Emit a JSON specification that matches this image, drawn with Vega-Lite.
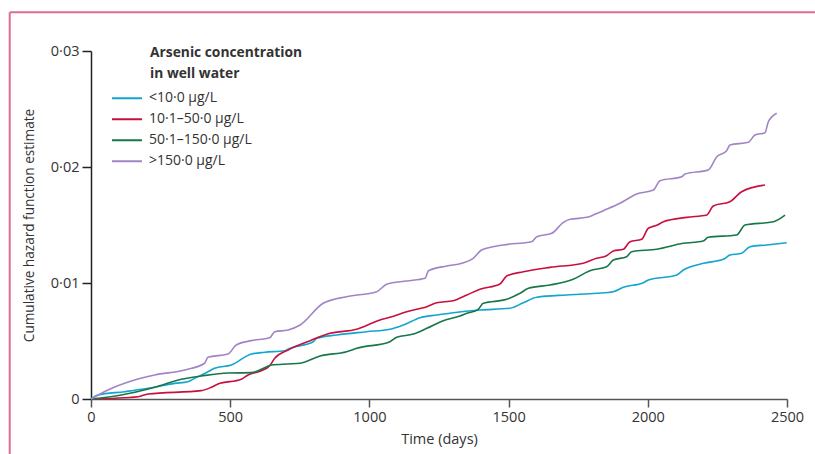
{
  "$schema": "https://vega.github.io/schema/vega-lite/v6.json",
  "width": 696,
  "height": 348,
  "autosize": {"type": "none"},
  "padding": {"left": 91, "top": 51, "right": 28, "bottom": 55},
  "background": "white",
  "config": {
    "view": {"stroke": null},
    "font": "Open Sans",
    "axis": {"labelFont": "Open Sans", "titleFont": "Open Sans", "grid": false}
  },
  "datasets": {
    "curves": [
      {"group": "<10·0 μg/L", "time": 0, "hazard": 0},
      {"group": "<10·0 μg/L", "time": 25, "hazard": 0.00034},
      {"group": "<10·0 μg/L", "time": 121, "hazard": 0.00063},
      {"group": "<10·0 μg/L", "time": 205, "hazard": 0.00092},
      {"group": "<10·0 μg/L", "time": 301, "hazard": 0.00135},
      {"group": "<10·0 μg/L", "time": 348, "hazard": 0.00149},
      {"group": "<10·0 μg/L", "time": 372, "hazard": 0.00178},
      {"group": "<10·0 μg/L", "time": 420, "hazard": 0.00235},
      {"group": "<10·0 μg/L", "time": 444, "hazard": 0.00265},
      {"group": "<10·0 μg/L", "time": 504, "hazard": 0.00293},
      {"group": "<10·0 μg/L", "time": 576, "hazard": 0.00388},
      {"group": "<10·0 μg/L", "time": 624, "hazard": 0.00403},
      {"group": "<10·0 μg/L", "time": 696, "hazard": 0.00416},
      {"group": "<10·0 μg/L", "time": 715, "hazard": 0.00437},
      {"group": "<10·0 μg/L", "time": 798, "hazard": 0.00494},
      {"group": "<10·0 μg/L", "time": 811, "hazard": 0.00523},
      {"group": "<10·0 μg/L", "time": 883, "hazard": 0.00552},
      {"group": "<10·0 μg/L", "time": 990, "hazard": 0.0058},
      {"group": "<10·0 μg/L", "time": 1074, "hazard": 0.00601},
      {"group": "<10·0 μg/L", "time": 1122, "hazard": 0.00638},
      {"group": "<10·0 μg/L", "time": 1182, "hazard": 0.00701},
      {"group": "<10·0 μg/L", "time": 1242, "hazard": 0.00724},
      {"group": "<10·0 μg/L", "time": 1301, "hazard": 0.00744},
      {"group": "<10·0 μg/L", "time": 1397, "hazard": 0.00767},
      {"group": "<10·0 μg/L", "time": 1505, "hazard": 0.00782},
      {"group": "<10·0 μg/L", "time": 1553, "hazard": 0.0083},
      {"group": "<10·0 μg/L", "time": 1601, "hazard": 0.00877},
      {"group": "<10·0 μg/L", "time": 1709, "hazard": 0.00897},
      {"group": "<10·0 μg/L", "time": 1816, "hazard": 0.00911},
      {"group": "<10·0 μg/L", "time": 1876, "hazard": 0.00925},
      {"group": "<10·0 μg/L", "time": 1912, "hazard": 0.00963},
      {"group": "<10·0 μg/L", "time": 1984, "hazard": 0.01003},
      {"group": "<10·0 μg/L", "time": 2002, "hazard": 0.01026},
      {"group": "<10·0 μg/L", "time": 2104, "hazard": 0.01069},
      {"group": "<10·0 μg/L", "time": 2128, "hazard": 0.01112},
      {"group": "<10·0 μg/L", "time": 2200, "hazard": 0.0117},
      {"group": "<10·0 μg/L", "time": 2271, "hazard": 0.01204},
      {"group": "<10·0 μg/L", "time": 2295, "hazard": 0.01241},
      {"group": "<10·0 μg/L", "time": 2337, "hazard": 0.01256},
      {"group": "<10·0 μg/L", "time": 2367, "hazard": 0.01313},
      {"group": "<10·0 μg/L", "time": 2427, "hazard": 0.01328},
      {"group": "<10·0 μg/L", "time": 2499, "hazard": 0.01347},

      {"group": "10·1–50·0 μg/L", "time": 0, "hazard": 0},
      {"group": "10·1–50·0 μg/L", "time": 169, "hazard": 0.0002},
      {"group": "10·1–50·0 μg/L", "time": 205, "hazard": 0.00043},
      {"group": "10·1–50·0 μg/L", "time": 396, "hazard": 0.00072},
      {"group": "10·1–50·0 μg/L", "time": 432, "hazard": 0.00101},
      {"group": "10·1–50·0 μg/L", "time": 456, "hazard": 0.00129},
      {"group": "10·1–50·0 μg/L", "time": 540, "hazard": 0.0017},
      {"group": "10·1–50·0 μg/L", "time": 564, "hazard": 0.00207},
      {"group": "10·1–50·0 μg/L", "time": 612, "hazard": 0.00244},
      {"group": "10·1–50·0 μg/L", "time": 642, "hazard": 0.00287},
      {"group": "10·1–50·0 μg/L", "time": 660, "hazard": 0.00351},
      {"group": "10·1–50·0 μg/L", "time": 708, "hazard": 0.00422},
      {"group": "10·1–50·0 μg/L", "time": 787, "hazard": 0.00503},
      {"group": "10·1–50·0 μg/L", "time": 858, "hazard": 0.00566},
      {"group": "10·1–50·0 μg/L", "time": 954, "hazard": 0.00601},
      {"group": "10·1–50·0 μg/L", "time": 1038, "hazard": 0.00681},
      {"group": "10·1–50·0 μg/L", "time": 1074, "hazard": 0.00704},
      {"group": "10·1–50·0 μg/L", "time": 1134, "hazard": 0.00753},
      {"group": "10·1–50·0 μg/L", "time": 1206, "hazard": 0.00796},
      {"group": "10·1–50·0 μg/L", "time": 1242, "hazard": 0.0083},
      {"group": "10·1–50·0 μg/L", "time": 1301, "hazard": 0.00847},
      {"group": "10·1–50·0 μg/L", "time": 1350, "hazard": 0.00897},
      {"group": "10·1–50·0 μg/L", "time": 1397, "hazard": 0.00946},
      {"group": "10·1–50·0 μg/L", "time": 1469, "hazard": 0.00991},
      {"group": "10·1–50·0 μg/L", "time": 1493, "hazard": 0.0106},
      {"group": "10·1–50·0 μg/L", "time": 1553, "hazard": 0.01097},
      {"group": "10·1–50·0 μg/L", "time": 1649, "hazard": 0.01135},
      {"group": "10·1–50·0 μg/L", "time": 1768, "hazard": 0.0117},
      {"group": "10·1–50·0 μg/L", "time": 1816, "hazard": 0.01213},
      {"group": "10·1–50·0 μg/L", "time": 1852, "hazard": 0.01235},
      {"group": "10·1–50·0 μg/L", "time": 1876, "hazard": 0.01276},
      {"group": "10·1–50·0 μg/L", "time": 1912, "hazard": 0.0129},
      {"group": "10·1–50·0 μg/L", "time": 1936, "hazard": 0.01356},
      {"group": "10·1–50·0 μg/L", "time": 1978, "hazard": 0.01377},
      {"group": "10·1–50·0 μg/L", "time": 2002, "hazard": 0.01472},
      {"group": "10·1–50·0 μg/L", "time": 2032, "hazard": 0.01497},
      {"group": "10·1–50·0 μg/L", "time": 2056, "hazard": 0.01528},
      {"group": "10·1–50·0 μg/L", "time": 2140, "hazard": 0.01566},
      {"group": "10·1–50·0 μg/L", "time": 2212, "hazard": 0.01586},
      {"group": "10·1–50·0 μg/L", "time": 2235, "hazard": 0.01664},
      {"group": "10·1–50·0 μg/L", "time": 2295, "hazard": 0.01701},
      {"group": "10·1–50·0 μg/L", "time": 2337, "hazard": 0.01787},
      {"group": "10·1–50·0 μg/L", "time": 2421, "hazard": 0.01845},

      {"group": "50·1–150·0 μg/L", "time": 0, "hazard": 0},
      {"group": "50·1–150·0 μg/L", "time": 109, "hazard": 0.00034},
      {"group": "50·1–150·0 μg/L", "time": 229, "hazard": 0.00101},
      {"group": "50·1–150·0 μg/L", "time": 324, "hazard": 0.0017},
      {"group": "50·1–150·0 μg/L", "time": 396, "hazard": 0.00198},
      {"group": "50·1–150·0 μg/L", "time": 492, "hazard": 0.00224},
      {"group": "50·1–150·0 μg/L", "time": 576, "hazard": 0.00227},
      {"group": "50·1–150·0 μg/L", "time": 612, "hazard": 0.00256},
      {"group": "50·1–150·0 μg/L", "time": 648, "hazard": 0.00293},
      {"group": "50·1–150·0 μg/L", "time": 708, "hazard": 0.00302},
      {"group": "50·1–150·0 μg/L", "time": 751, "hazard": 0.00308},
      {"group": "50·1–150·0 μg/L", "time": 823, "hazard": 0.00371},
      {"group": "50·1–150·0 μg/L", "time": 918, "hazard": 0.00408},
      {"group": "50·1–150·0 μg/L", "time": 954, "hazard": 0.00437},
      {"group": "50·1–150·0 μg/L", "time": 1074, "hazard": 0.00494},
      {"group": "50·1–150·0 μg/L", "time": 1098, "hazard": 0.00532},
      {"group": "50·1–150·0 μg/L", "time": 1158, "hazard": 0.0056},
      {"group": "50·1–150·0 μg/L", "time": 1206, "hazard": 0.00609},
      {"group": "50·1–150·0 μg/L", "time": 1265, "hazard": 0.00675},
      {"group": "50·1–150·0 μg/L", "time": 1325, "hazard": 0.00716},
      {"group": "50·1–150·0 μg/L", "time": 1350, "hazard": 0.00739},
      {"group": "50·1–150·0 μg/L", "time": 1391, "hazard": 0.00773},
      {"group": "50·1–150·0 μg/L", "time": 1409, "hazard": 0.00825},
      {"group": "50·1–150·0 μg/L", "time": 1493, "hazard": 0.00859},
      {"group": "50·1–150·0 μg/L", "time": 1541, "hazard": 0.00911},
      {"group": "50·1–150·0 μg/L", "time": 1571, "hazard": 0.00954},
      {"group": "50·1–150·0 μg/L", "time": 1649, "hazard": 0.00983},
      {"group": "50·1–150·0 μg/L", "time": 1732, "hazard": 0.01032},
      {"group": "50·1–150·0 μg/L", "time": 1792, "hazard": 0.01106},
      {"group": "50·1–150·0 μg/L", "time": 1852, "hazard": 0.0114},
      {"group": "50·1–150·0 μg/L", "time": 1876, "hazard": 0.01198},
      {"group": "50·1–150·0 μg/L", "time": 1924, "hazard": 0.01227},
      {"group": "50·1–150·0 μg/L", "time": 1942, "hazard": 0.0127},
      {"group": "50·1–150·0 μg/L", "time": 2032, "hazard": 0.01291},
      {"group": "50·1–150·0 μg/L", "time": 2127, "hazard": 0.01342},
      {"group": "50·1–150·0 μg/L", "time": 2199, "hazard": 0.01362},
      {"group": "50·1–150·0 μg/L", "time": 2217, "hazard": 0.01394},
      {"group": "50·1–150·0 μg/L", "time": 2319, "hazard": 0.01414},
      {"group": "50·1–150·0 μg/L", "time": 2349, "hazard": 0.015},
      {"group": "50·1–150·0 μg/L", "time": 2451, "hazard": 0.01528},
      {"group": "50·1–150·0 μg/L", "time": 2493, "hazard": 0.01586},

      {"group": ">150·0 μg/L", "time": 0, "hazard": 0},
      {"group": ">150·0 μg/L", "time": 61, "hazard": 0.00078},
      {"group": ">150·0 μg/L", "time": 145, "hazard": 0.00155},
      {"group": ">150·0 μg/L", "time": 229, "hazard": 0.00207},
      {"group": ">150·0 μg/L", "time": 337, "hazard": 0.0025},
      {"group": ">150·0 μg/L", "time": 408, "hazard": 0.00308},
      {"group": ">150·0 μg/L", "time": 420, "hazard": 0.0036},
      {"group": ">150·0 μg/L", "time": 492, "hazard": 0.00388},
      {"group": ">150·0 μg/L", "time": 522, "hazard": 0.00466},
      {"group": ">150·0 μg/L", "time": 576, "hazard": 0.00503},
      {"group": ">150·0 μg/L", "time": 642, "hazard": 0.00528},
      {"group": ">150·0 μg/L", "time": 660, "hazard": 0.0058},
      {"group": ">150·0 μg/L", "time": 708, "hazard": 0.00595},
      {"group": ">150·0 μg/L", "time": 751, "hazard": 0.00638},
      {"group": ">150·0 μg/L", "time": 834, "hazard": 0.00825},
      {"group": ">150·0 μg/L", "time": 918, "hazard": 0.00882},
      {"group": ">150·0 μg/L", "time": 1026, "hazard": 0.00925},
      {"group": ">150·0 μg/L", "time": 1062, "hazard": 0.00989},
      {"group": ">150·0 μg/L", "time": 1134, "hazard": 0.01017},
      {"group": ">150·0 μg/L", "time": 1200, "hazard": 0.01041},
      {"group": ">150·0 μg/L", "time": 1212, "hazard": 0.01106},
      {"group": ">150·0 μg/L", "time": 1278, "hazard": 0.01147},
      {"group": ">150·0 μg/L", "time": 1332, "hazard": 0.0117},
      {"group": ">150·0 μg/L", "time": 1373, "hazard": 0.01213},
      {"group": ">150·0 μg/L", "time": 1403, "hazard": 0.01284},
      {"group": ">150·0 μg/L", "time": 1481, "hazard": 0.01328},
      {"group": ">150·0 μg/L", "time": 1583, "hazard": 0.01356},
      {"group": ">150·0 μg/L", "time": 1601, "hazard": 0.01399},
      {"group": ">150·0 μg/L", "time": 1655, "hazard": 0.01428},
      {"group": ">150·0 μg/L", "time": 1697, "hazard": 0.01523},
      {"group": ">150·0 μg/L", "time": 1721, "hazard": 0.01549},
      {"group": ">150·0 μg/L", "time": 1781, "hazard": 0.01566},
      {"group": ">150·0 μg/L", "time": 1810, "hazard": 0.01592},
      {"group": ">150·0 μg/L", "time": 1840, "hazard": 0.01623},
      {"group": ">150·0 μg/L", "time": 1900, "hazard": 0.01687},
      {"group": ">150·0 μg/L", "time": 1960, "hazard": 0.01767},
      {"group": ">150·0 μg/L", "time": 2020, "hazard": 0.01802},
      {"group": ">150·0 μg/L", "time": 2044, "hazard": 0.01882},
      {"group": ">150·0 μg/L", "time": 2122, "hazard": 0.01916},
      {"group": ">150·0 μg/L", "time": 2134, "hazard": 0.0194},
      {"group": ">150·0 μg/L", "time": 2217, "hazard": 0.01974},
      {"group": ">150·0 μg/L", "time": 2248, "hazard": 0.02089},
      {"group": ">150·0 μg/L", "time": 2283, "hazard": 0.0214},
      {"group": ">150·0 μg/L", "time": 2295, "hazard": 0.0219},
      {"group": ">150·0 μg/L", "time": 2361, "hazard": 0.02213},
      {"group": ">150·0 μg/L", "time": 2385, "hazard": 0.02276},
      {"group": ">150·0 μg/L", "time": 2421, "hazard": 0.02296},
      {"group": ">150·0 μg/L", "time": 2433, "hazard": 0.0239},
      {"group": ">150·0 μg/L", "time": 2463, "hazard": 0.02463}
    ]
  },
  "layer": [
    {
      "data": {"name": "curves"},
      "mark": {"type": "line", "strokeWidth": 1.6, "interpolate": "monotone"},
      "encoding": {
        "x": {
          "field": "time", "type": "quantitative",
          "scale": {"domain": [0, 2500], "nice": false},
          "axis": {
            "title": "Time (days)", "values": [0, 500, 1000, 1500, 2000, 2500],
            "format": "d", "tickSize": 8, "labelPadding": 3, "labelFontSize": 14.5,
            "labelFlush": false, "labelOverlap": false,
            "labelColor": "#333", "tickColor": "#555", "domainColor": "#555",
            "domainWidth": 1.5, "tickWidth": 1.5,
            "titleFontSize": 14.5, "titleFontWeight": "normal", "titleColor": "#333",
            "titlePadding": 9
          }
        },
        "y": {
          "field": "hazard", "type": "quantitative",
          "scale": {"domain": [0, 0.03], "nice": false},
          "axis": {
            "title": "Cumulative hazard function estimate", "values": [0, 0.01, 0.02, 0.03],
            "labelExpr": "datum.value == 0 ? '0' : replace(format(datum.value, '.2f'), '.', '·')",
            "labelFlush": false, "labelOverlap": false,
            "tickSize": 9, "labelPadding": 3, "labelFontSize": 14.5, "labelColor": "#333",
            "tickColor": "#222", "domainColor": "#222", "domainWidth": 1.5, "tickWidth": 1.5,
            "titleFontSize": 13.6, "titleFontWeight": "normal", "titleColor": "#333",
            "titlePadding": 14
          }
        },
        "color": {
          "field": "group", "type": "nominal",
          "scale": {
            "domain": ["<10·0 μg/L", "10·1–50·0 μg/L", "50·1–150·0 μg/L", ">150·0 μg/L"],
            "range": ["#12a5cf", "#c8103f", "#17774a", "#a284c6"]
          },
          "legend": {
            "title": null, "orient": "none", "legendX": 20, "legendY": 37,
            "symbolType": "stroke", "symbolSize": 900, "symbolStrokeWidth": 2,
            "labelFontSize": 14, "labelOffset": 6, "labelColor": "#333", "labelFont": "Open Sans",
            "clipHeight": 20.5, "rowPadding": 0
          }
        }
      }
    },
    {
      "data": {"values": [{}]},
      "mark": {"type": "rule", "color": "#dc6e8e", "strokeWidth": 2},
      "encoding": {
        "x": {"datum": -292, "type": "quantitative", "scale": {"domain": [0, 2500], "nice": false}},
        "y": {"datum": 0.03334, "type": "quantitative", "scale": {"domain": [0, 0.03], "nice": false}},
        "y2": {"datum": -0.006}
      }
    },
    {
      "data": {"values": [{}]},
      "mark": {"type": "rule", "color": "#dc6e8e", "strokeWidth": 2},
      "encoding": {
        "x": {"datum": -292, "type": "quantitative", "scale": {"domain": [0, 2500], "nice": false}},
        "x2": {"datum": 2700},
        "y": {"datum": 0.03334, "type": "quantitative", "scale": {"domain": [0, 0.03], "nice": false}}
      }
    },
    {
      "data": {"values": [{}]},
      "mark": {
        "type": "text", "text": ["Arsenic concentration", "in well water"],
        "align": "left", "baseline": "middle", "lineHeight": 21,
        "fontSize": 13.8, "fontWeight": "bold", "font": "Open Sans", "color": "#333"
      },
      "encoding": {
        "x": {"datum": 212, "type": "quantitative", "scale": {"domain": [0, 2500], "nice": false}},
        "y": {"datum": 0.02985, "type": "quantitative", "scale": {"domain": [0, 0.03], "nice": false}}
      }
    }
  ]
}
